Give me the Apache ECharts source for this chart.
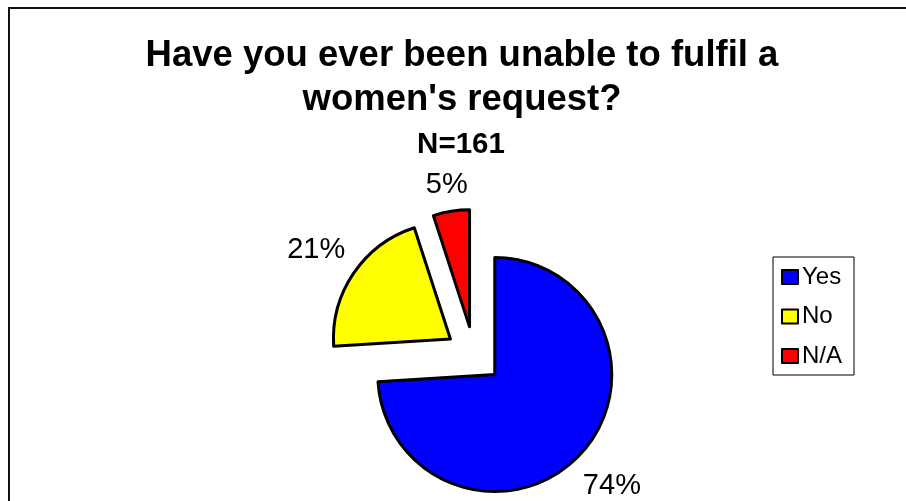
<!DOCTYPE html>
<html>
<head>
<meta charset="utf-8">
<script src="https://cdn.jsdelivr.net/npm/echarts@6/dist/echarts.min.js"></script>
<style>
html,body{margin:0;padding:0;background:#fff;}
#chart{width:906px;height:501px;}
</style>
</head>
<body>
<div id="chart"></div>
<script>
const categories = ['Yes', 'No', 'N/A'];
const values = [74, 21, 5];
const colors = ['#0000FF', '#FFFF00', '#FF0000'];
const titleText = "Have you ever been unable to fulfil a\nwomen's request?";
const subtitleText = 'N=161';

const FONT = "'Liberation Sans', Arial, sans-serif";
const chart = echarts.init(document.getElementById('chart'), null, {renderer: 'canvas'});

const mainData = categories.map((c, i) => ({
  name: c, value: values[i], selected: true,
  itemStyle: {color: colors[i]}
}));
const ghostData = categories.map((c, i) => ({
  name: c, value: values[i], selected: true
}));

const center = [474, 355];
const pieR = 117;
const offset = 28.5;
const labelGap = 13;

chart.setOption({
  animation: false,
  backgroundColor: '#fff',
  graphic: [{
    type: 'rect', silent: true, z: -10,
    shape: {x: 9, y: 8, width: 1000, height: 1000},
    style: {fill: 'none', stroke: '#111', lineWidth: 2}
  }],
  title: [{
    text: titleText,
    left: 457, top: 29, textAlign: 'center',
    textStyle: {fontFamily: FONT, fontSize: 36.5, fontWeight: 'bold', color: '#000', lineHeight: 44}
  }, {
    text: subtitleText,
    left: 456, top: 125, textAlign: 'center',
    textStyle: {fontFamily: FONT, fontSize: 29.5, fontWeight: 'bold', color: '#000'}
  }],
  legend: {
    orient: 'vertical',
    left: 773, top: 257,
    padding: [8, 12, 7, 8],
    borderColor: '#000', borderWidth: 1,
    itemWidth: 16, itemHeight: 14, itemGap: 15.5,
    selectedMode: false,
    data: categories,
    icon: 'rect',
    itemStyle: {borderColor: '#000', borderWidth: 2},
    textStyle: {fontFamily: FONT, fontSize: 24, color: '#000', lineHeight: 24, padding: [0, 0, 0, -1]}
  },
  series: [{
    name: 'main',
    type: 'pie',
    center: center,
    radius: [0, pieR],
    startAngle: 90,
    clockwise: true,
    selectedMode: 'multiple',
    selectedOffset: offset,
    silent: true,
    emphasis: {disabled: true, scale: false},
    label: {show: false},
    labelLine: {show: false},
    itemStyle: {borderColor: '#000', borderWidth: 3},
    select: {itemStyle: {borderColor: '#000', borderWidth: 3}},
    data: mainData
  }, {
    name: 'labels',
    type: 'pie',
    center: center,
    radius: [pieR + labelGap - 0.5, pieR + labelGap + 0.5],
    startAngle: 90,
    clockwise: true,
    selectedMode: 'multiple',
    selectedOffset: offset,
    silent: true,
    emphasis: {disabled: true, scale: false},
    itemStyle: {color: 'rgba(0,0,0,0)', borderWidth: 0},
    select: {itemStyle: {color: 'rgba(0,0,0,0)', borderWidth: 0}},
    label: {
      show: true, position: 'inside',
      formatter: '{d}%',
      fontFamily: FONT, fontSize: 29, color: '#000'
    },
    labelLine: {show: false},
    labelLayout: function (p) {
      const r = p.labelRect;
      const lx = r.x + r.width / 2, ly = r.y + r.height / 2;
      let ux = lx - center[0], uy = ly - center[1];
      const len = Math.sqrt(ux * ux + uy * uy) || 1;
      ux /= len; uy /= len;
      const ext = (r.width / 2) * Math.abs(ux) + (r.height / 2 - 5) * Math.abs(uy);
      return {dx: ux * ext, dy: uy * ext + 2};
    },
    percentPrecision: 0,
    data: ghostData
  }]
});
</script>
</body>
</html>
